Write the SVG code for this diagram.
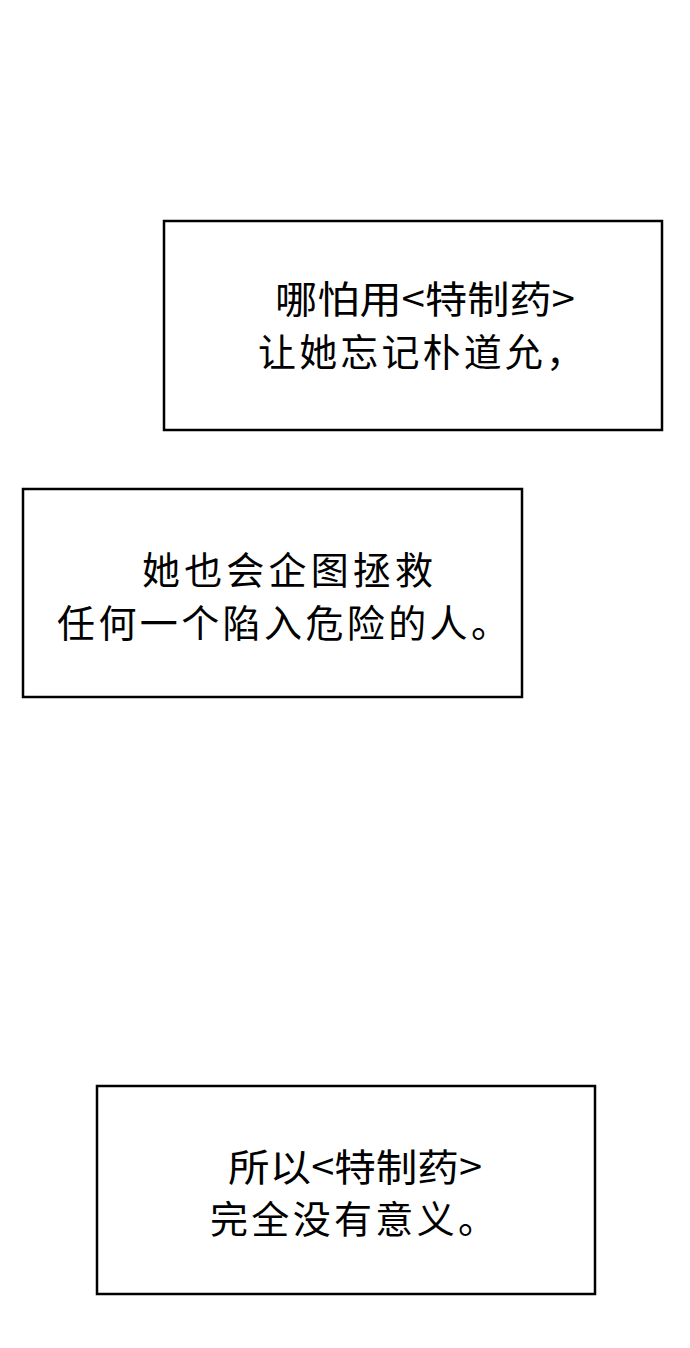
<svg xmlns="http://www.w3.org/2000/svg" width="690" height="1348" viewBox="0 0 690 1348">
<style>
.box{fill:#fff;stroke:#000;stroke-width:2.5}
.t{font-family:"Noto Sans CJK SC","Noto Sans",sans-serif;font-size:38px;fill:#000}
</style>
<rect width="690" height="1348" fill="#fff"/>
<g id="box1"><rect class="box" x="164" y="221" width="498" height="209"/>
<text class="t" x="275" y="313" textLength="300" lengthAdjust="spacingAndGlyphs">哪怕用&lt;特制药&gt;</text>
<text class="t" x="258" y="366" textLength="326" lengthAdjust="spacing">让她忘记朴道允，</text></g>
<g id="box2"><rect class="box" x="23" y="489" width="499" height="208"/>
<text class="t" x="142" y="584" textLength="291" lengthAdjust="spacing">她也会企图拯救</text>
<text class="t" x="57" y="637" textLength="452" lengthAdjust="spacing">任何一个陷入危险的人。</text></g>
<g id="box3"><rect class="box" x="97" y="1086" width="498" height="208"/>
<text class="t" x="228" y="1181" textLength="254" lengthAdjust="spacingAndGlyphs">所以&lt;特制药&gt;</text>
<text class="t" x="210" y="1233" textLength="286" lengthAdjust="spacing">完全没有意义。</text></g>
<g id="connectors"/>
</svg>
